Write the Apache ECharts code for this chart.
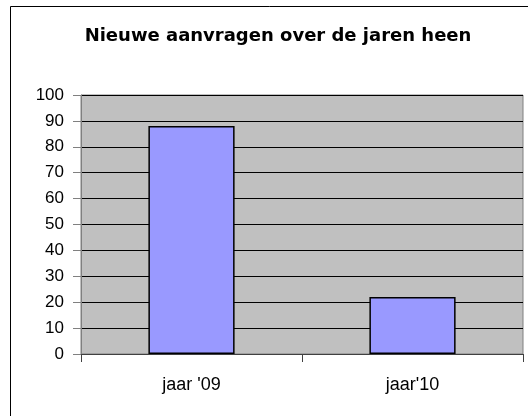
<!DOCTYPE html>
<html>
<head>
<meta charset="utf-8">
<script src="https://cdn.jsdelivr.net/npm/echarts@6/dist/echarts.min.js"></script>
<style>
  html, body { margin: 0; padding: 0; background: #fff; }
  #main { width: 528px; height: 416px; }
</style>
</head>
<body>
<div id="main"></div>
<script>
// data
const categories = ["jaar '09", "jaar'10"];
const aanvragen = [88, 22];

const myChart = echarts.init(document.getElementById('main'));
myChart.setOption({
  animation: false,
  title: {
    text: 'Nieuwe aanvragen over de jaren heen',
    left: 273,
    top: 22,
    textAlign: 'center',
    textStyle: {
      fontFamily: 'DejaVu Sans',
      fontSize: 18,
      fontWeight: 'bold',
      color: '#000'
    }
  },
  graphic: [{
    type: 'rect',
    shape: { x: 10.5, y: 6.5, width: 700, height: 700 },
    style: { fill: 'none', stroke: '#000', lineWidth: 1 },
    silent: true
  }],
  grid: {
    left: 81,
    right: 5,
    top: 95,
    bottom: 62,
    show: true,
    backgroundColor: '#c0c0c0',
    borderColor: '#808080',
    borderWidth: 1
  },
  xAxis: {
    type: 'category',
    data: categories,
    boundaryGap: true,
    axisLine: { lineStyle: { color: '#404040' } },
    axisTick: { show: true, length: 8, lineStyle: { color: '#404040' } },
    axisLabel: {
      margin: 22,
      fontFamily: 'Liberation Sans, Arial',
      fontSize: 18,
      color: '#000'
    }
  },
  yAxis: {
    type: 'value',
    min: 0,
    max: 100,
    interval: 10,
    axisLine: { show: true, lineStyle: { color: '#808080' } },
    axisTick: { show: true, length: 8, lineStyle: { color: '#808080' } },
    axisLabel: {
      margin: 17,
      fontFamily: 'Liberation Sans, Arial',
      fontSize: 17,
      color: '#000'
    },
    splitLine: { show: true, lineStyle: { color: '#000', width: 1 } }
  },
  series: [{
    type: 'bar',
    data: aanvragen,
    barWidth: '39%',
    itemStyle: {
      color: '#9999ff',
      borderColor: '#000',
      borderWidth: 1.5
    }
  }]
});
</script>
</body>
</html>
